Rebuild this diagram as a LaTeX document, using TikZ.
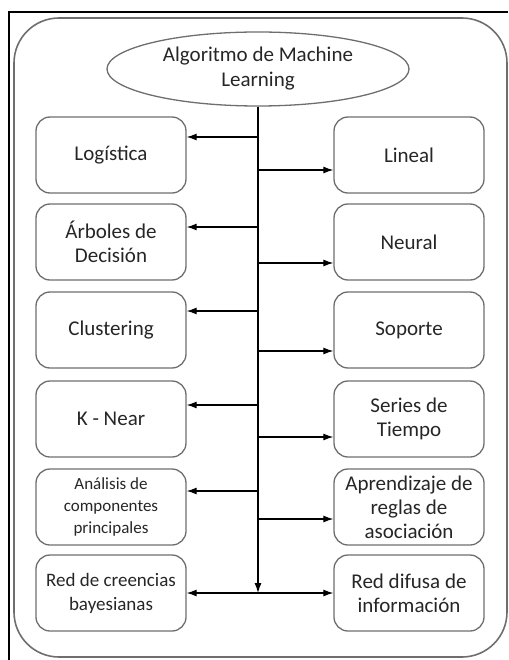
\documentclass[tikz,border=0pt]{standalone}
\usepackage{fontspec}
\setmainfont{Carlito}
\usetikzlibrary{arrows.meta,shapes.geometric}
\definecolor{borde}{HTML}{6E6E6E}
\tikzstyle{caja} = [draw=borde, line width=1.3pt, rounded corners=14pt, minimum width=150pt, minimum height=76pt, inner sep=3pt, align=center, text=black!85, font=\fontsize{21}{24}\selectfont]
\tikzstyle{elipse} = [draw=borde, line width=1.3pt, shape=ellipse, minimum width=302pt, minimum height=74pt, inner sep=0pt, align=center, text=black!85, font=\fontsize{21}{25}\selectfont]
\tikzstyle{flecha} = [style={-{Latex[length=10pt,width=7pt]},line width=1.2pt}]
\tikzstyle{doble} = [style={{Latex[length=10pt,width=7pt]}-{Latex[length=10pt,width=7pt]},line width=1.2pt}]

\begin{document}
\begin{tikzpicture}[x=1pt,y=-1pt]
    \useasboundingbox (0,0) rectangle (508,660);
    \draw[line width=2.4pt] (508,12) -- (9,12) -- (9,660);
    \draw[draw=borde, line width=1.6pt, rounded corners=45pt] (14,18) rectangle (507,657);
    \node[elipse] (alg) at (258,69) {Algoritmo de Machine\\Learning};
    % columna izquierda
    \node[caja] (log) at (111,155) {Logística};
    \node[caja] (arb) at (111,242) {Árboles de\\Decisión};
    \node[caja] (clu) at (111,330) {Clustering};
    \node[caja] (kne) at (111,419) {K - Near};
    \node[caja, font=\fontsize{17}{22}\selectfont] (acp) at (111,507) {Análisis de\\componentes\\principales};
    \node[caja, font=\fontsize{19}{24}\selectfont] (bay) at (111,593) {Red de creencias\\bayesianas};
    % columna derecha
    \node[caja] (lin) at (409,155) {Lineal};
    \node[caja] (neu) at (409,242) {Neural};
    \node[caja] (sop) at (409,330) {Soporte};
    \node[caja] (ser) at (409,419) {Series de\\Tiempo};
    \node[caja] (apr) at (409,507) {Aprendizaje de\\reglas de\\asociación};
    \node[caja] (dif) at (409,593) {Red difusa de\\información};
    % tronco y ramas
    \draw[flecha] (alg.south) -- (alg.south |- bay);
    \foreach \y/\n in {137/log,227/arb,311/clu,405/kne,491/acp} {
      \coordinate (i\n) at (258,\y);
      \draw[flecha] (i\n) -- (i\n -| \n.east);
    }
    \foreach \y/\n in {170/lin,263/neu,351/sop,437/ser,519/apr} {
      \coordinate (d\n) at (258,\y);
      \draw[flecha] (d\n) -- (d\n -| \n.west);
    }
    \draw[doble] (bay.east) -- (dif.west);
\end{tikzpicture}
\end{document}
